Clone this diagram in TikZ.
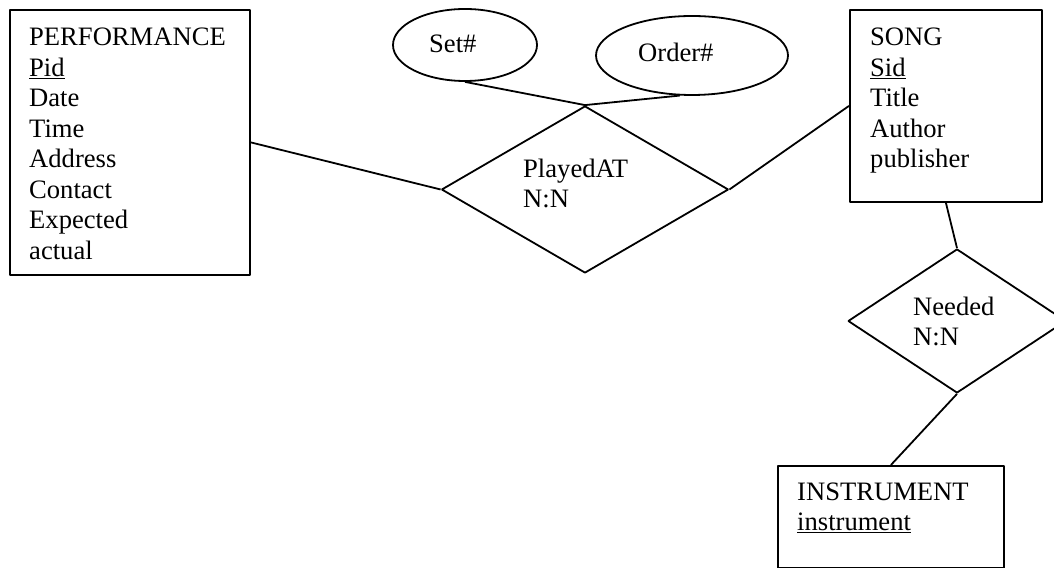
\documentclass[tikz,border=0pt]{standalone}
\usepackage{fontspec}
\setmainfont{Liberation Serif}
\usetikzlibrary{shapes.geometric}
\begin{document}
\begin{tikzpicture}[>=latex,line join=bevel,
  entity/.style={draw,line width=1.8bp,inner sep=0pt,anchor=north west},
  relation/.style={draw,diamond,line width=1.8bp,inner sep=0pt},
  attrib/.style={draw,ellipse,line width=1.8bp,inner sep=0pt},
  txt/.style={inner sep=0pt,anchor=north west,align=left,font=\fontsize{26.6bp}{30.5bp}\selectfont},
  link/.style={black,line width=1.8bp}]
%%
\useasboundingbox (0bp,0bp) rectangle (1054bp,568bp);
\node (node_performance) at (9bp,559bp) [entity,minimum width=240bp,minimum height=265bp] {};
  \node (node_song) at (849bp,559bp) [entity,minimum width=192bp,minimum height=192bp] {};
  \node (node_instrument) at (777bp,103bp) [entity,minimum width=226bp,minimum height=102bp] {};
  \node (node_playedat) at (585bp,378.5bp) [relation,minimum width=287bp,minimum height=167bp] {};
  \node (node_needed) at (957bp,247bp) [relation,minimum width=218bp,minimum height=144bp] {};
  \node (node_set) at (465bp,523bp) [attrib,minimum width=144bp,minimum height=72bp] {};
  \node (node_order) at (692bp,512.5bp) [attrib,minimum width=192bp,minimum height=79bp] {};
%
\node (text_performance) at (29bp,540bp) [txt] {PERFORMANCE\\\underline{Pid}\\Date\\Time\\Address\\Contact\\Expected\\actual};
  \node (text_song) at (870bp,540bp) [txt] {SONG\\\underline{Sid}\\Title\\Author\\publisher};
  \node (text_instrument) at (797bp,85.5bp) [txt] {INSTRUMENT\\\underline{instrument}};
  \node (text_playedat) at (523bp,409.5bp) [txt] {PlayedAT\\N:N};
  \node (text_needed) at (913bp,271.5bp) [txt] {Needed\\N:N};
  \node (text_set) at (429bp,533.5bp) [txt] {Set\#};
  \node (text_order) at (638bp,525.5bp) [txt] {Order\#};
%
\draw [link] (node_performance.east) -- (node_playedat.west);
  \draw [link] (node_playedat.east) -- (node_song.west);
  \draw [link] (node_set.south) -- (node_playedat.north);
  \draw [link] (node_order.253) -- (node_playedat.north);
  \draw [link] (node_song.south) -- (node_needed.north);
  \draw [link] (node_needed.south) -- (node_instrument.north);
%
\end{tikzpicture}
\end{document}
